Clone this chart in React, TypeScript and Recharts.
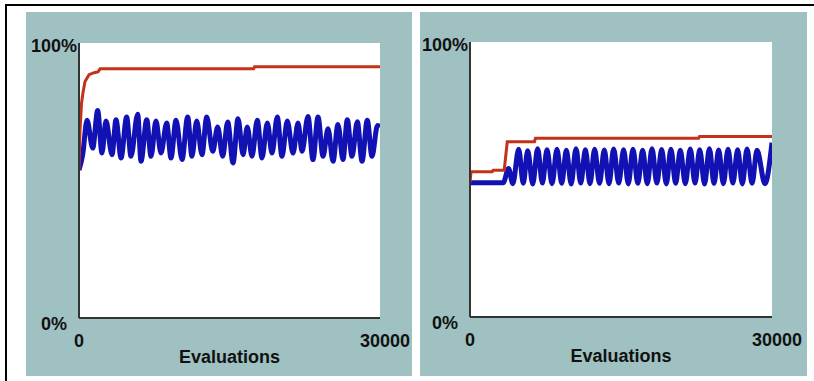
import React from "react";
import { LineChart, Line, XAxis, YAxis, CartesianGrid } from "recharts";

// evaluations (e) vs percent (v)
const leftBest = [
  { e: 0, v: 54 }, { e: 100, v: 68 }, { e: 250, v: 78 }, { e: 400, v: 82 },
  { e: 600, v: 86 }, { e: 1000, v: 88.5 }, { e: 1500, v: 89.2 }, { e: 1900, v: 89.5 },
  { e: 2100, v: 90.6 }, { e: 17400, v: 90.6 }, { e: 17500, v: 91.4 }, { e: 30000, v: 91.4 },
];

const leftAvg = [
  { e: 0, v: 53.8 }, { e: 370, v: 59.4 }, { e: 800, v: 71.9 }, { e: 1370, v: 61.8 },
  { e: 1860, v: 75.5 }, { e: 2290, v: 60.0 }, { e: 2690, v: 71.6 }, { e: 3290, v: 59.4 },
  { e: 3690, v: 72.1 }, { e: 4190, v: 58.2 }, { e: 4750, v: 73.1 }, { e: 5180, v: 58.8 },
  { e: 5850, v: 74.1 }, { e: 6180, v: 57.0 }, { e: 6750, v: 72.1 }, { e: 7180, v: 58.8 },
  { e: 7670, v: 71.6 }, { e: 8170, v: 60.0 }, { e: 8740, v: 70.9 }, { e: 9170, v: 58.2 },
  { e: 9670, v: 71.9 }, { e: 10270, v: 57.6 }, { e: 10830, v: 73.1 }, { e: 11260, v: 58.8 },
  { e: 11730, v: 71.6 }, { e: 12260, v: 59.4 }, { e: 12730, v: 73.1 }, { e: 13330, v: 60.6 },
  { e: 13820, v: 69.5 }, { e: 14320, v: 58.8 }, { e: 14820, v: 71.3 }, { e: 15350, v: 56.4 },
  { e: 15850, v: 72.5 }, { e: 16350, v: 59.4 }, { e: 16770, v: 69.5 }, { e: 17240, v: 58.8 },
  { e: 17770, v: 71.9 }, { e: 18240, v: 58.2 }, { e: 18770, v: 70.9 }, { e: 19240, v: 60.0 },
  { e: 19760, v: 73.1 }, { e: 20230, v: 58.8 }, { e: 20760, v: 71.6 }, { e: 21330, v: 60.0 },
  { e: 21830, v: 70.9 }, { e: 22230, v: 60.6 }, { e: 22820, v: 73.3 }, { e: 23320, v: 57.6 },
  { e: 23820, v: 73.1 }, { e: 24320, v: 58.8 }, { e: 24820, v: 68.8 }, { e: 25320, v: 57.0 },
  { e: 25810, v: 70.4 }, { e: 26310, v: 57.6 }, { e: 26740, v: 72.1 }, { e: 27210, v: 58.8 },
  { e: 27740, v: 71.4 }, { e: 28210, v: 57.0 }, { e: 28730, v: 71.9 }, { e: 29200, v: 58.8 },
  { e: 29750, v: 70.0 }, { e: 30000, v: 69.5 },
];

const rightBest = [
  { e: 0, v: 49 }, { e: 100, v: 52.8 }, { e: 2200, v: 52.8 }, { e: 2300, v: 53.4 },
  { e: 3400, v: 53.4 }, { e: 3700, v: 63.7 }, { e: 6400, v: 63.7 }, { e: 6500, v: 65 },
  { e: 22700, v: 65 }, { e: 22800, v: 65.6 }, { e: 30000, v: 65.6 },
];

const rightAvg = [
  { e: 0, v: 48.8 }, { e: 3300, v: 48.8 }, { e: 3830, v: 54.0 }, { e: 4250, v: 48.5 },
  { e: 4840, v: 61.0 }, { e: 5290, v: 48.6 }, { e: 5730, v: 60.5 }, { e: 6230, v: 48.4 },
  { e: 6720, v: 61.2 }, { e: 7190, v: 48.7 }, { e: 7650, v: 60.8 }, { e: 8150, v: 48.5 },
  { e: 8640, v: 61.0 }, { e: 9110, v: 48.6 }, { e: 9570, v: 60.6 }, { e: 10050, v: 48.4 },
  { e: 10530, v: 61.2 }, { e: 11000, v: 48.7 }, { e: 11460, v: 60.8 }, { e: 11920, v: 48.5 },
  { e: 12380, v: 61.0 }, { e: 12860, v: 48.6 }, { e: 13340, v: 60.7 }, { e: 13810, v: 48.5 },
  { e: 14270, v: 61.1 }, { e: 14770, v: 48.7 }, { e: 15260, v: 60.8 }, { e: 15720, v: 48.4 },
  { e: 16190, v: 61.0 }, { e: 16670, v: 48.6 }, { e: 17150, v: 60.6 }, { e: 17610, v: 48.5 },
  { e: 18080, v: 61.2 }, { e: 18560, v: 48.7 }, { e: 19040, v: 60.9 }, { e: 19500, v: 48.4 },
  { e: 19960, v: 61.0 }, { e: 20430, v: 48.6 }, { e: 20890, v: 60.6 }, { e: 21390, v: 48.5 },
  { e: 21880, v: 61.1 }, { e: 22350, v: 48.7 }, { e: 22820, v: 60.8 }, { e: 23300, v: 48.4 },
  { e: 23780, v: 61.2 }, { e: 24240, v: 48.6 }, { e: 24700, v: 60.7 }, { e: 25170, v: 48.5 },
  { e: 25630, v: 61.0 }, { e: 26110, v: 48.7 }, { e: 26590, v: 60.8 }, { e: 27050, v: 48.4 },
  { e: 27520, v: 61.1 }, { e: 28020, v: 48.6 }, { e: 28510, v: 60.6 }, { e: 29300, v: 48.5 },
  { e: 30000, v: 63.4 },
];

const xTicks = [0, 30000];
const yTicks = [0, 100];
const xTitle = "Evaluations";

const TEAL = "#9fc1c1";
const RED = "#c4321a";
const BLUE = "#1212b4";
const FONT = "'Liberation Sans', Arial, sans-serif";

const XTick = (props: any) => {
  const { x, y, payload } = props;
  const dx = payload.value === 30000 ? 5 : 0;
  return (
    <text x={x + dx} y={y + 29} textAnchor="middle" fontFamily={FONT} fontWeight="bold" fontSize={18} fill="#111">
      {payload.value}
    </text>
  );
};

const YTick = (props: any) => {
  const { x, y, payload } = props;
  const top = payload.value === 100;
  return (
    <text x={x + (top ? -2 : -12)} y={y + (top ? 9 : 12)} textAnchor="end" fontFamily={FONT} fontWeight="bold" fontSize={18} fill="#111">
      {payload.value}%
    </text>
  );
};

function Panel({ best, avg, left, width, margin }: any) {
  return (
    <div style={{ position: "absolute", left, top: 12, width, height: 364, background: TEAL }}>
      <LineChart width={width} height={364} margin={margin}>
        <CartesianGrid horizontal={false} vertical={false} fill="#ffffff" stroke="none" />
        <XAxis
          type="number"
          dataKey="e"
          domain={[0, 30000]}
          ticks={xTicks}
          allowDataOverflow
          height={30}
          tickLine={false}
          tickSize={0}
          tickMargin={0}
          axisLine={{ stroke: "#333", strokeWidth: 2 }}
          tick={<XTick />}
          interval={0}
          label={{ value: xTitle, position: "bottom", offset: 2, fontFamily: FONT, fontWeight: "bold", fontSize: 18, fill: "#111" }}
        />
        <YAxis
          type="number"
          dataKey="v"
          domain={[0, 100]}
          ticks={yTicks}
          allowDataOverflow
          width={40}
          tickLine={false}
          tickSize={0}
          tickMargin={0}
          axisLine={{ stroke: "#333", strokeWidth: 2 }}
          tick={<YTick />}
          interval={0}
        />
        <Line data={avg} dataKey="v" type="monotone" stroke={BLUE} strokeWidth={5} dot={false} isAnimationActive={false} />
        <Line data={best} dataKey="v" type="linear" stroke={RED} strokeWidth={3} dot={false} isAnimationActive={false} />
      </LineChart>
    </div>
  );
}

export default function App() {
  return (
    <div style={{ position: "absolute", left: 0, top: 0, width: 814, height: 381, background: "#fff", overflow: "hidden" }}>
      <div style={{ position: "absolute", left: 5, top: 4, width: 809, height: 377, borderTop: "2px solid #000", borderLeft: "2px solid #000" }} />
      <Panel best={leftBest} avg={leftAvg} left={26} width={386} margin={{ top: 31, right: 32, bottom: 28, left: 13 }} />
      <Panel best={rightBest} avg={rightAvg} left={420} width={387} margin={{ top: 30, right: 35, bottom: 29, left: 10 }} />
    </div>
  );
}
